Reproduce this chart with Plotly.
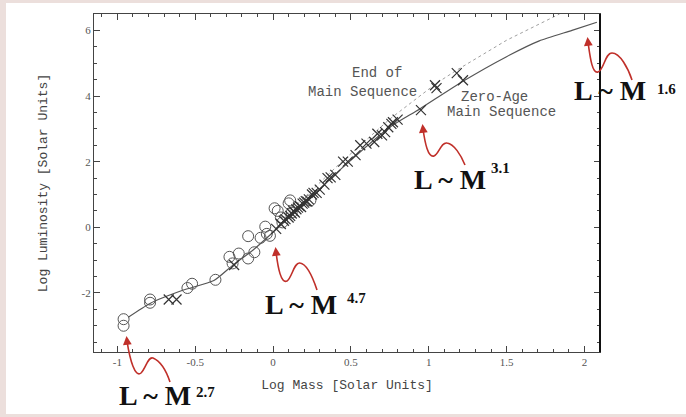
import plotly.graph_objects as go

# ---------------- data ----------------
zams_logm = [-0.93, -0.79, -0.58, -0.38, -0.26, -0.13, 0.0, 0.2, 0.43, 0.75, 0.94, 1.22, 1.5, 1.71, 1.92, 2.08]
zams_logl = [-2.74, -2.32, -1.92, -1.62, -1.16, -0.7, -0.15, 0.72, 1.75, 3.05, 3.6, 4.45, 5.2, 5.68, 6.0, 6.25]

tams_logm = [0.1, 0.43, 0.75, 1.05, 1.18, 1.5, 1.84]
tams_logl = [0.45, 1.95, 3.3, 4.39, 4.79, 5.7, 6.5]

circ_logm = [-0.96, -0.96, -0.79, -0.79, -0.55, -0.52, -0.37, -0.28, -0.26, -0.22, -0.16, -0.12,
             -0.16, -0.08, -0.05, -0.04, -0.02, 0.01, 0.03, 0.06, 0.05, 0.1, 0.11, 0.24, 0.12]
circ_logl = [-2.8, -3.0, -2.2, -2.3, -1.85, -1.72, -1.6, -0.9, -1.1, -0.8, -0.95, -0.76,
             -0.27, -0.32, 0.02, -0.2, -0.26, 0.58, 0.5, 0.15, 0.3, 0.73, 0.82, 0.82, 0.45]

star_logm = [-0.67, -0.62, -0.25, 0.02, 0.05, 0.07, 0.08, 0.1, 0.11, 0.12, 0.13, 0.14, 0.15, 0.16,
             0.17, 0.18, 0.19, 0.2, 0.21, 0.22, 0.23, 0.25, 0.26, 0.28, 0.3, 0.33, 0.35, 0.37, 0.4,
             0.45, 0.48, 0.53, 0.56, 0.6, 0.65, 0.67, 0.7, 0.72, 0.74, 0.76, 0.77, 0.8, 0.95, 1.04,
             1.05, 1.18, 1.22]
star_logl = [-2.2, -2.2, -1.15, -0.05, 0.1, 0.2, 0.25, 0.3, 0.35, 0.42, 0.5, 0.45, 0.55, 0.6,
             0.65, 0.62, 0.72, 0.75, 0.8, 0.78, 0.85, 1.0, 1.05, 1.05, 1.15, 1.3, 1.5, 1.52, 1.6,
             2.0, 2.0, 2.2, 2.5, 2.55, 2.6, 2.85, 2.8, 2.9, 3.05, 3.15, 3.2, 3.28, 3.57, 4.33,
             4.24, 4.7, 4.48]

x_ticks = [-1, -0.5, 0, 0.5, 1, 1.5, 2]
x_tick_text = ["-1", "-0.5", "0", "0.5", "1", "1.5", "2"]
y_ticks = [-2, 0, 2, 4, 6]
y_tick_text = ["-2", "0", "2", "4", "6"]

power_laws = ["2.7", "4.7", "3.1", "1.6"]

# ---------------- layout helpers (pixel -> paper) ----------------
W, H = 686, 417
L, R, T, B = 94, 600, 14, 352
PW, PH = R - L, B - T


def px(x):
    return (x - L) / PW


def py(y):
    return (B - y) / PH


fig = go.Figure()

fig.add_trace(go.Scatter(x=tams_logm, y=tams_logl, mode="lines",
                         line=dict(color="#a0a0a0", width=1, dash="dot"),
                         showlegend=False, hoverinfo="skip"))
fig.add_trace(go.Scatter(x=zams_logm, y=zams_logl, mode="lines",
                         line=dict(color="#555555", width=1.2, shape="spline", smoothing=0.6),
                         showlegend=False))
fig.add_trace(go.Scatter(x=circ_logm, y=circ_logl, mode="markers",
                         marker=dict(symbol="circle-open", size=11, color="#555555",
                                     line=dict(width=1)),
                         showlegend=False))
fig.add_trace(go.Scatter(x=star_logm, y=star_logl, mode="markers",
                         marker=dict(symbol="x-thin-open", size=10, color="#333333",
                                     line=dict(width=1.2, color="#333333")),
                         showlegend=False))

axis_common = dict(
    showgrid=False, zeroline=False, showline=True, linecolor="#444444", linewidth=1.3,
    mirror="ticks", ticks="inside", ticklen=6, tickcolor="#444444", tickwidth=1,
    tickfont=dict(family="Liberation Serif", size=11, color="#555555"),
)

fig.update_xaxes(range=[-1.15, 2.1], tickvals=x_ticks, ticktext=x_tick_text,
                 minor=dict(dtick=0.1, tick0=0, ticks="inside", ticklen=3, tickcolor="#444444"),
                 title=dict(text="Log Mass [Solar Units]", standoff=12,
                            font=dict(family="Liberation Mono", size=13, color="#444444")),
                 **axis_common)
fig.update_yaxes(range=[-3.8, 6.5], tickvals=y_ticks, ticktext=y_tick_text,
                 minor=dict(dtick=0.5, tick0=0, ticks="inside", ticklen=3, tickcolor="#444444"),
                 title=dict(text="Log Luminosity [Solar Units]", standoff=30,
                            font=dict(family="Liberation Mono", size=13, color="#444444")),
                 **axis_common)

shapes = [
    # slide-like white page over tinted background
    dict(type="rect", xref="paper", yref="paper", x0=px(6), x1=px(690), y0=py(414), y1=py(3),
         fillcolor="white", line=dict(width=0), layer="below"),
    # heavy right frame line
    dict(type="line", xref="paper", yref="paper", x0=1, x1=1, y0=0, y1=1,
         line=dict(color="#111111", width=2)),
]

# curvy red arrows (pixel points: tip, valley, hump, tail)
arrow_paths = [
    [(127, 341), (130, 360), (135, 378), (141, 373), (146, 368), (148, 356), (153, 358), (160, 361), (166, 370), (170, 382)],
    [(276, 252), (278, 268), (281, 284), (287, 281), (292, 278), (294, 262), (300, 263), (307, 264), (313, 278), (317, 290)],
    [(423, 129), (425, 143), (428, 158), (434, 156), (439, 154), (441, 142), (447, 143), (454, 144), (461, 155), (465, 165)],
    [(588, 42), (590, 56), (592, 74), (598, 72), (604, 70), (605, 53), (612, 53), (620, 53), (628, 68), (632, 80)],
]
red = "#c0302a"
annotations = []
for pts in arrow_paths:
    p = [(px(a), py(b)) for a, b in pts]
    d = "M {:.5f},{:.5f} C {:.5f},{:.5f} {:.5f},{:.5f} {:.5f},{:.5f} C {:.5f},{:.5f} {:.5f},{:.5f} {:.5f},{:.5f} C {:.5f},{:.5f} {:.5f},{:.5f} {:.5f},{:.5f}".format(
        *[c for pt in p for c in pt])
    shapes.append(dict(type="path", xref="paper", yref="paper", path=d,
                       line=dict(color=red, width=1.6)))
    tx, ty = pts[0]
    annotations.append(dict(xref="paper", yref="paper", x=px(tx - 0.5), y=py(ty - 5),
                            ax=1, ay=10, showarrow=True, arrowhead=2, arrowsize=1.1,
                            arrowwidth=1.6, arrowcolor=red, text=""))

# power-law labels
label_pos = [((117, 395), (194, 392)), ((263, 304), (345, 298)),
             ((412, 180), (489, 168)), ((572, 90), (655, 89))]
for (mp, sp), exp in zip(label_pos, power_laws):
    annotations.append(dict(xref="paper", yref="paper", x=px(mp[0]), y=py(mp[1]),
                            xanchor="left", yanchor="middle", showarrow=False,
                            text="<b>L ~ M</b>",
                            font=dict(family="Liberation Serif", size=28, color="#111111")))
    annotations.append(dict(xref="paper", yref="paper", x=px(sp[0]), y=py(sp[1]),
                            xanchor="left", yanchor="middle", showarrow=False,
                            text="<b>" + exp + "</b>",
                            font=dict(family="Liberation Serif", size=15, color="#111111")))

# curve labels
gray_font = dict(family="Liberation Mono", size=14, color="#555555")
for txt, cx, cy in [("End of", 377, 73), ("Main Sequence", 362, 92),
                    ("Zero-Age", 494, 97), ("Main Sequence", 501, 112)]:
    annotations.append(dict(xref="paper", yref="paper", x=px(cx), y=py(cy),
                            xanchor="center", yanchor="middle", showarrow=False,
                            text=txt, font=gray_font))

fig.update_layout(
    width=W, height=H,
    margin=dict(l=L, r=W - R, t=T, b=H - B, pad=0),
    paper_bgcolor="#ecdfdc", plot_bgcolor="white",
    shapes=shapes, annotations=annotations, showlegend=False,
)

fig.write_html("out.html", config={"displayModeBar": False},
               post_script="document.body.style.margin='0';document.body.style.padding='0';")
